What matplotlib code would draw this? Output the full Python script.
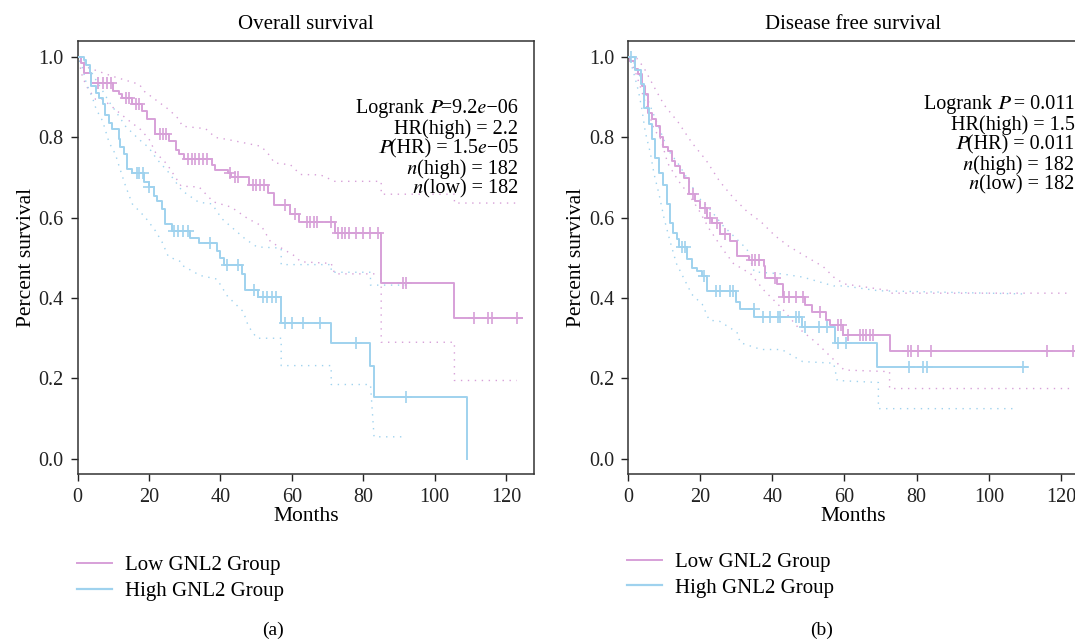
import numpy as np
import matplotlib
matplotlib.use('Agg')
import matplotlib.pyplot as plt

plt.rcParams['font.family'] = ['Liberation Serif', 'STIXGeneral', 'DejaVu Serif']

pink = '#d7a0d8'
blue = '#9fd2ee'

# ---- Overall survival: KM steps (months, survival) ----
os_low_t = [0, 0.9, 1.7, 3.8, 9.8, 11.6, 12.5, 15.3, 18.1, 19.5, 21.8, 25.6, 27.5, 28.4, 29.8,
            37.5, 38.4, 42.1, 43.0, 48.1, 53.3, 55.0, 59.6, 62.0, 72.0, 85.0, 105.5, 124.5]
os_low_s = [1.0, 0.984, 0.96, 0.934, 0.914, 0.906, 0.897, 0.881, 0.864, 0.844, 0.808, 0.79, 0.769, 0.757, 0.745,
            0.731, 0.719, 0.711, 0.70, 0.681, 0.661, 0.630, 0.610, 0.589, 0.562, 0.437, 0.351, 0.351]
os_low_cens = [5.6, 7.0, 8.2, 9.4, 13.5, 14.5, 16.3, 17.2, 23.0, 24.0, 24.8, 31.0, 32.0, 33.0, 34.0, 35.0, 36.3,
               42.6, 44.0, 45.0, 49.0, 50.0, 51.0, 52.3, 58.0, 61.0, 64.2, 65.2, 66.2, 67.0, 71.0, 73.0, 74.0,
               75.0, 76.0, 78.0, 80.0, 82.0, 84.0, 91.0, 92.0, 111.0, 115.0, 116.0, 123.0]

os_high_t = [0, 1.7, 2.4, 3.5, 3.8, 5.2, 6.1, 7.0, 7.7, 8.8, 9.7, 11.6, 12.0, 12.9, 13.9, 15.3, 18.5, 19.9,
             21.3, 22.2, 23.6, 24.6, 26.5, 31.5, 34.0, 39.0, 40.0, 41.0, 46.0, 47.0, 50.5, 57.0, 71.0, 82.0,
             83.0, 109.0]
os_high_s = [1.0, 0.991, 0.98, 0.96, 0.927, 0.91, 0.898, 0.881, 0.856, 0.836, 0.819, 0.795, 0.775, 0.757, 0.72,
             0.71, 0.688, 0.676, 0.654, 0.641, 0.621, 0.584, 0.566, 0.55, 0.536, 0.516, 0.50, 0.483, 0.46, 0.42,
             0.403, 0.338, 0.289, 0.231, 0.153, 0.0]
os_high_cens = [16.5, 17.2, 18.2, 20.0, 27.0, 28.0, 29.5, 31.0, 37.2, 41.8, 45.0, 49.3, 52.0, 53.0, 54.5, 55.6,
                58.0, 60.0, 63.0, 68.0, 78.0, 92.0]

# confidence bands (dotted)
os_low_hi_t = [0.5, 3.1, 9.8, 17.3, 18.6, 25.6, 28.4, 29.3, 35.8, 38.6, 42.0, 51.4, 54.0, 55.0, 59.6, 62.4,
               68.0, 72.0, 85.0, 85.0, 105.5, 105.5, 123.0]
os_low_hi_v = [1.0, 0.972, 0.951, 0.931, 0.914, 0.868, 0.844, 0.827, 0.821, 0.799, 0.794, 0.777, 0.752, 0.736,
               0.731, 0.707, 0.706, 0.69, 0.69, 0.658, 0.658, 0.636, 0.636]
os_low_lo_t = [0.5, 1.0, 2.4, 5.0, 7.0, 9.7, 13.9, 17.6, 20.0, 21.8, 25.0, 29.0, 34.0, 38.0, 43.0, 47.7, 51.4,
               54.0, 60.7, 62.5, 71.0, 72.0, 85.0, 85.0, 105.5, 105.5, 123.0]
os_low_lo_v = [0.99, 0.96, 0.927, 0.894, 0.894, 0.875, 0.844, 0.819, 0.795, 0.762, 0.733, 0.678, 0.676, 0.639,
               0.626, 0.597, 0.58, 0.54, 0.505, 0.49, 0.486, 0.46, 0.46, 0.29, 0.29, 0.195, 0.195]
os_high_hi_t = [0.5, 3.1, 4.5, 6.8, 8.7, 10.6, 13.4, 17.1, 19.9, 22.2, 25.5, 29.2, 33.9, 37.6, 40.4, 46.9,
                50.2, 57.0, 57.0, 71.0, 71.0, 82.0, 82.0, 92.0]
os_high_hi_v = [1.0, 0.976, 0.951, 0.918, 0.889, 0.865, 0.827, 0.795, 0.774, 0.745, 0.712, 0.667, 0.638, 0.634,
                0.597, 0.547, 0.527, 0.524, 0.483, 0.483, 0.464, 0.464, 0.432, 0.432]
os_high_lo_t = [0.5, 1.2, 2.4, 4.3, 5.2, 7.0, 8.8, 10.6, 11.6, 13.4, 15.3, 18.9, 21.7, 23.6, 25.4, 29.0, 29.5,
                34.3, 39.0, 42.0, 46.4, 47.8, 50.2, 57.0, 57.0, 71.0, 71.0, 82.0, 83.0, 92.0]
os_high_lo_v = [0.99, 0.977, 0.935, 0.894, 0.869, 0.84, 0.787, 0.757, 0.728, 0.679, 0.634, 0.601, 0.568, 0.54,
                0.503, 0.49, 0.48, 0.456, 0.447, 0.404, 0.366, 0.33, 0.30, 0.30, 0.232, 0.232, 0.185, 0.185,
                0.055, 0.055]

# ---- Disease free survival ----
dfs_low_t = [0, 0.6, 1.9, 2.9, 3.8, 4.7, 5.6, 6.6, 7.8, 8.9, 9.8, 11.2, 12.1, 13.1, 14.4, 15.4, 16.8, 18.6,
             20.0, 21.9, 23.2, 25.6, 28.3, 30.2, 33.4, 37.6, 38.1, 41.3, 43.0, 49.0, 51.0, 55.0, 56.0, 59.5,
             72.5, 124.5]
dfs_low_s = [1.0, 0.989, 0.968, 0.956, 0.927, 0.906, 0.861, 0.844, 0.828, 0.799, 0.776, 0.765, 0.74, 0.728,
             0.711, 0.699, 0.658, 0.641, 0.624, 0.600, 0.587, 0.558, 0.541, 0.505, 0.494, 0.479, 0.45, 0.435,
             0.403, 0.382, 0.366, 0.345, 0.332, 0.307, 0.268, 0.268]
dfs_low_cens = [18.1, 21.4, 22.6, 24.6, 27.0, 34.4, 35.3, 36.2, 40.8, 43.3, 44.5, 46.5, 48.4, 53.2, 58.1, 59.1,
                61.1, 64.2, 65.1, 66.1, 67.0, 68.0, 77.6, 78.5, 80.3, 84.1, 116.0, 123.4]

dfs_high_t = [0, 1.9, 3.5, 4.3, 5.9, 6.6, 7.5, 8.7, 9.8, 10.7, 11.7, 12.6, 13.7, 14.2, 16.3, 17.7, 19.1, 20.5,
              21.9, 30.0, 31.1, 35.0, 48.2, 57.5, 69.0, 110.6]
dfs_high_s = [1.0, 0.966, 0.931, 0.873, 0.832, 0.794, 0.749, 0.711, 0.682, 0.634, 0.587, 0.562, 0.546, 0.527,
              0.496, 0.475, 0.467, 0.454, 0.418, 0.39, 0.373, 0.354, 0.327, 0.288, 0.229, 0.229]
dfs_high_cens = [0.8, 15.1, 15.8, 21.0, 24.4, 25.4, 28.3, 29.2, 34.8, 37.4, 39.3, 41.5, 42.1, 46.5, 47.4, 49.1,
                 52.9, 55.1, 58.1, 60.3, 78.0, 81.9, 82.9, 109.5]

dfs_low_hi_t = [0.5, 2.4, 4.3, 7.2, 10.0, 13.9, 17.7, 21.6, 25.4, 29.2, 33.0, 36.9, 40.7, 44.5, 49.3, 54.1,
                57.0, 59.9, 72.8, 73.0, 123.0]
dfs_low_hi_v = [1.0, 0.996, 0.974, 0.925, 0.88, 0.837, 0.786, 0.743, 0.69, 0.649, 0.615, 0.589, 0.555, 0.529,
                0.503, 0.478, 0.452, 0.435, 0.418, 0.412, 0.412]
dfs_low_lo_t = [0.5, 1.9, 3.4, 5.3, 7.2, 9.1, 11.0, 13.9, 16.8, 19.6, 22.5, 26.3, 29.2, 34.0, 37.8, 42.6, 47.4,
                52.2, 57.0, 59.9, 72.5, 72.5, 123.0]
dfs_low_lo_v = [0.99, 0.966, 0.925, 0.872, 0.82, 0.795, 0.735, 0.692, 0.658, 0.619, 0.572, 0.521, 0.486, 0.46,
                0.418, 0.375, 0.324, 0.289, 0.247, 0.221, 0.217, 0.175, 0.175]
dfs_high_hi_t = [0.5, 1.4, 3.4, 5.3, 7.2, 9.1, 11.0, 13.9, 16.8, 19.6, 22.5, 26.3, 30.2, 33.0, 35.0, 42.6,
                 48.4, 57.0, 59.9, 69.4, 110.0]
dfs_high_hi_v = [1.0, 0.99, 0.949, 0.897, 0.854, 0.812, 0.769, 0.734, 0.692, 0.649, 0.623, 0.58, 0.546, 0.521,
                 0.465, 0.46, 0.452, 0.43, 0.43, 0.418, 0.41]
dfs_high_lo_t = [0.5, 1.4, 2.9, 3.8, 4.8, 6.2, 7.2, 8.6, 10.0, 11.5, 13.4, 15.3, 17.7, 20.6, 22.5, 25.4, 30.2,
                 31.1, 36.9, 42.6, 48.4, 57.0, 58.0, 69.4, 69.4, 107.0]
dfs_high_lo_v = [0.99, 0.966, 0.914, 0.872, 0.812, 0.76, 0.709, 0.658, 0.598, 0.546, 0.486, 0.452, 0.409, 0.384,
                 0.345, 0.342, 0.315, 0.289, 0.272, 0.272, 0.242, 0.238, 0.195, 0.19, 0.125, 0.125]

# italic P, e, n as unicode math italic letters (rendered from STIXGeneral)
P_it, e_it, n_it = '\U0001D443', '\U0001D452', '\U0001D45B'
os_stats = ['Logrank ' + P_it + '=9.2' + e_it + '\u221206', 'HR(high) = 2.2',
            P_it + '(HR) = 1.5' + e_it + '\u221205', n_it + '(high) = 182', n_it + '(low) = 182']
dfs_stats = ['Logrank ' + P_it + ' = 0.011', 'HR(high) = 1.5', P_it + '(HR) = 0.011',
             n_it + '(high) = 182', n_it + '(low) = 182']
group_labels = ['Low GNL2 Group', 'High GNL2 Group']
xticks = [0, 20, 40, 60, 80, 100, 120]
yticks = [0.0, 0.2, 0.4, 0.6, 0.8, 1.0]

fs = 15


def km_panel(ax, low, high, low_cens, high_cens, bands, title, stats, xmax, stats_xy):
    # dotted confidence bands
    for (bt, bv), col in bands:
        ax.plot(bt, bv, color=col, lw=1.0, linestyle=(0, (1, 4)), zorder=2)
    for (t, s), cens, col in [(low, low_cens, pink), (high, high_cens, blue)]:
        ax.step(t, s, where='post', color=col, lw=1.4, zorder=3)
        t_arr = np.array(t)
        s_arr = np.array(s)
        idx = np.searchsorted(t_arr, cens, side='right') - 1
        ax.plot(cens, s_arr[idx], linestyle='none', marker='+', ms=8, mew=1.2, color=col, zorder=4)
    ax.set_xlim(0, xmax)
    ax.set_ylim(-0.0386, 1.04)
    ax.set_xticks(xticks)
    ax.set_yticks(yticks)
    ax.set_yticklabels(['%.1f' % v for v in yticks])
    ax.tick_params(direction='out', length=5, width=1, labelsize=14.5, pad=5,
                   top=False, right=False, colors='#222222')
    for sp in ax.spines.values():
        sp.set_linewidth(1.1)
        sp.set_color('#333333')
    ax.set_title(title, fontsize=15, pad=8)
    ax.set_xlabel('Months', fontsize=15.5, labelpad=0)
    ax.set_ylabel('Percent survival', fontsize=15.5, labelpad=2)
    x0, y0 = stats_xy
    ax.text(x0, y0, '\n'.join(stats), transform=ax.transAxes, ha='right', va='center',
            multialignment='right', fontsize=14.5, linespacing=1.04)


fig = plt.figure(figsize=(10.75, 6.41), dpi=100)
ax1 = fig.add_axes([0.0722, 0.2598, 0.4246, 0.677])
ax2 = fig.add_axes([0.5842, 0.2598, 0.4195, 0.677])

km_panel(ax1, (os_low_t, os_low_s), (os_high_t, os_high_s), os_low_cens, os_high_cens,
         [((os_low_hi_t, os_low_hi_v), pink), ((os_low_lo_t, os_low_lo_v), pink),
          ((os_high_hi_t, os_high_hi_v), blue), ((os_high_lo_t, os_high_lo_v), blue)],
         'Overall survival', os_stats, 127.8, (0.965, 0.750))
km_panel(ax2, (dfs_low_t, dfs_low_s), (dfs_high_t, dfs_high_s), dfs_low_cens, dfs_high_cens,
         [((dfs_low_hi_t, dfs_low_hi_v), pink), ((dfs_low_lo_t, dfs_low_lo_v), pink),
          ((dfs_high_hi_t, dfs_high_hi_v), blue), ((dfs_high_lo_t, dfs_high_lo_v), blue)],
         'Disease free survival', dfs_stats, 125.0, (0.99, 0.759))

# legends below each panel
for xa, ya in [(0.0716, 0.0975), (0.5833, 0.103)]:
    handles = [plt.Line2D([], [], color=pink, lw=1.4), plt.Line2D([], [], color=blue, lw=1.6)]
    fig.legend(handles, group_labels, loc='center left', bbox_to_anchor=(xa, ya), frameon=False,
               fontsize=fs, handlelength=1.7, handletextpad=0.6, labelspacing=0.3,
               borderpad=0, borderaxespad=0)

fig.text(273 / 1075, 1 - 630 / 641, '(a)', ha='center', va='center', fontsize=14)
fig.text(822 / 1075, 1 - 630 / 641, '(b)', ha='center', va='center', fontsize=14)

fig.savefig('out.png', dpi=100)
